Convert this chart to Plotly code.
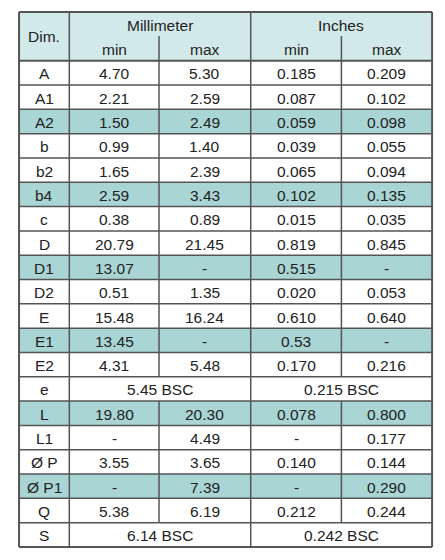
import plotly.graph_objects as go

dims = ["A","A1","A2","b","b2","b4","c","D","D1","D2","E","E1","E2","e","L","L1","Ø P","Ø P1","Q","S"]
mm_min = ["4.70","2.21","1.50","0.99","1.65","2.59","0.38","20.79","13.07","0.51","15.48","13.45","4.31","5.45 BSC","19.80","-","3.55","-","5.38","6.14 BSC"]
mm_max = ["5.30","2.59","2.49","1.40","2.39","3.43","0.89","21.45","-","1.35","16.24","-","5.48",None,"20.30","4.49","3.65","7.39","6.19",None]
in_min = ["0.185","0.087","0.059","0.039","0.065","0.102","0.015","0.819","0.515","0.020","0.610","0.53","0.170","0.215 BSC","0.078","-","0.140","-","0.212","0.242 BSC"]
in_max = ["0.209","0.102","0.098","0.055","0.094","0.135","0.035","0.845","-","0.053","0.640","-","0.216",None,"0.800","0.177","0.144","0.290","0.244",None]
highlight = ["A2","b4","D1","E1","L","Ø P1"]
header_top = ["Dim.","Millimeter","Inches"]
header_sub = ["min","max","min","max"]

# layout geometry (pixels)
X = [13, 64, 155, 248, 340, 432]
Y0, YMID, YH = 12, 36, 60.7
RH = (547 - YH) / len(dims)
HEAD = "#d2e9e9"
HI = "#a9d5d5"
LINE = "#555555"
FONT = dict(family="Liberation Sans, Arial", size=15.5, color="#222222")

shapes, ann = [], []
def rect(x0, y0, x1, y1, fill):
    shapes.append(dict(type="rect", x0=x0, x1=x1, y0=y0, y1=y1, fillcolor=fill, line=dict(width=0), layer="below"))
def line(x0, y0, x1, y1, w=1.5):
    shapes.append(dict(type="line", x0=x0, x1=x1, y0=y0, y1=y1, line=dict(color=LINE, width=w)))
def text(x, y, t):
    ann.append(dict(x=x, y=y, text=t, showarrow=False, font=FONT, xanchor="center", yanchor="middle"))

rect(X[0], Y0, X[5], YH, HEAD)
text((X[0]+X[1])/2, (Y0+YH)/2, header_top[0])
text((X[1]+X[3])/2, (Y0+YMID)/2+1, header_top[1])
text((X[3]+X[5])/2, (Y0+YMID)/2+1, header_top[2])
for i, s in enumerate(header_sub):
    text((X[i+1]+X[i+2])/2, (YMID+YH)/2+1, s)

for r, d in enumerate(dims):
    y0 = YH + r*RH; y1 = y0 + RH; yc = (y0+y1)/2 + 1
    if d in highlight:
        rect(X[0], y0, X[5], y1, HI)
    text((X[0]+X[1])/2, yc, d)
    if mm_max[r] is None:
        text((X[1]+X[3])/2, yc, mm_min[r]); text((X[3]+X[5])/2, yc, in_min[r])
        line(X[3], y0, X[3], y1)
    else:
        for c, v in enumerate([mm_min[r], mm_max[r], in_min[r], in_max[r]]):
            text((X[c+1]+X[c+2])/2, yc, v)
        for c in (2, 3, 4):
            line(X[c], y0, X[c], y1)
    line(X[0], y1, X[5], y1)

line(X[0], Y0, X[5], Y0, 2); line(X[0], YH, X[5], YH, 2)
line(X[0], Y0, X[0], 547, 2); line(X[5], Y0, X[5], 547, 2)
line(X[1], Y0, X[1], 547); line(X[3], Y0, X[3], YH)
line(X[2], YMID, X[2], YH); line(X[4], YMID, X[4], YH)
line(X[0], 547, X[5], 547, 2)

fig = go.Figure()
fig.update_layout(width=445, height=560, margin=dict(l=0, r=0, t=0, b=0),
                  paper_bgcolor="white", plot_bgcolor="white",
                  xaxis=dict(range=[1.8, 453.2], visible=False, fixedrange=True),
                  yaxis=dict(range=[568, 8], visible=False, fixedrange=True),
                  shapes=shapes, annotations=ann, showlegend=False)
fig.write_html("out.html", config=dict(displayModeBar=False))
